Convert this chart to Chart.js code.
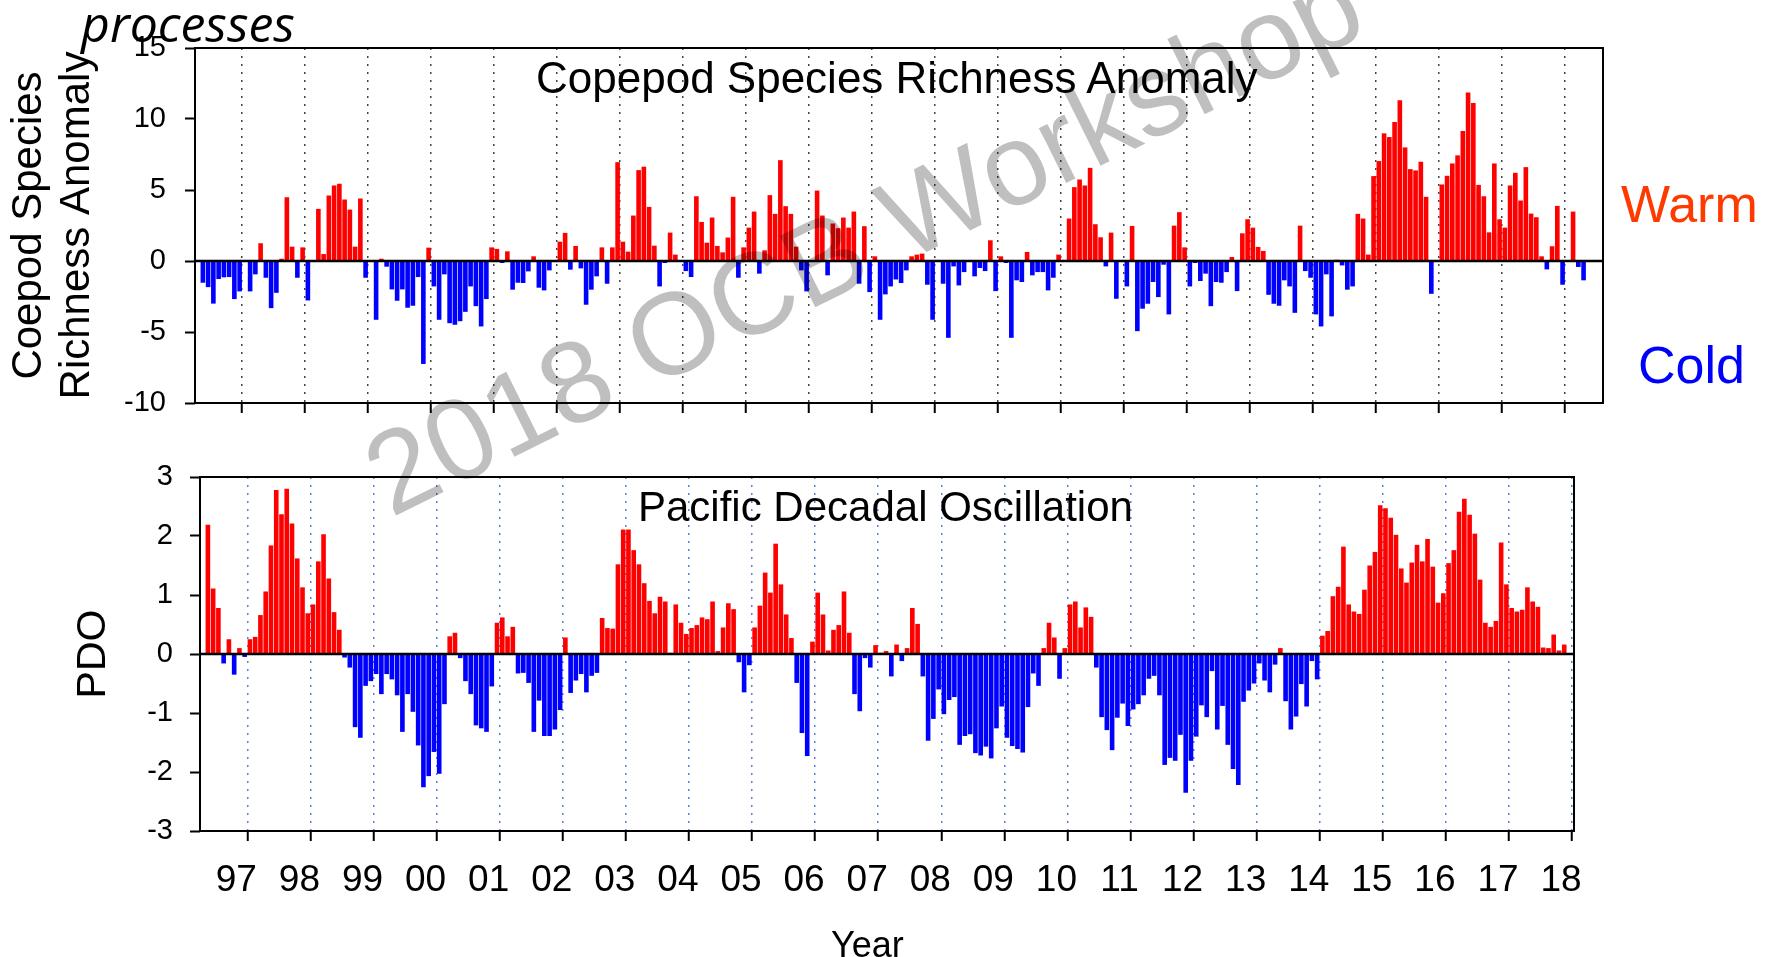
<!DOCTYPE html>
<html>
<head>
<meta charset="utf-8">
<title>Copepod richness and PDO</title>
<script src="https://cdn.jsdelivr.net/npm/chart.js@4.4.1/dist/chart.umd.min.js"></script>
<style>
  html, body { margin: 0; padding: 0; background: #fff; overflow: hidden; }
  body { width: 1773px; height: 957px; position: relative; font-family: 'Liberation Sans', Arial, sans-serif; }
  #topBox { position: absolute; left: 0; top: 0; width: 1773px; height: 440px; }
  #botBox { position: absolute; left: 0; top: 440px; width: 1773px; height: 517px; }
  .txt { position: absolute; white-space: nowrap; line-height: 1; }
  #processes { left: 81px; top: -2px; font: italic 50px 'Open Sans', sans-serif; color: #000; line-height: 1; }
  #copTitle { left: 536px; top: 56px; font-size: 44px; color: #000; }
  #pdoTitle { left: 638px; top: 486px; font-size: 42px; color: #000; }
  #warm { left: 1621px; top: 178px; font-size: 52px; color: #ff3a00; }
  #cold { left: 1638px; top: 339px; font-size: 52px; color: #0000ff; }
  #year { left: 831px; top: 927px; font-size: 36px; color: #000; }
  #mark { left: 391px; top: 420px; font-size: 116px; color: rgba(0,0,0,0.25);
          transform-origin: 0 98px; transform: rotate(-26.4deg); z-index: 5; }
</style>
</head>
<body>
<div id="topBox"><canvas id="copChart" width="1773" height="440"></canvas></div>
<div id="botBox"><canvas id="pdoChart" width="1773" height="517"></canvas></div>
<div class="txt" id="processes">processes</div>
<div class="txt" id="copTitle">Copepod Species Richness Anomaly</div>
<div class="txt" id="pdoTitle">Pacific Decadal Oscillation</div>
<div class="txt" id="warm">Warm</div>
<div class="txt" id="cold">Cold</div>
<div class="txt" id="year">Year</div>
<div class="txt" id="mark">2018 OCB Workshop</div>
<script>
  // monthly series, first value = May 1996 (null = no sample)
  var START_YEAR = 1996;
  var START_MONTH = 4; // 0-based, May

  var copepodAnom = [
    -1.53, -1.84, -3.0, -1.27, -1.15, -1.13, -2.68, -2.14,                 // 1996
    null, -2.14, -0.94, 1.25, -1.18, -3.32, -2.24, 0.16, 4.49, 1.01, -1.18, 0.96,   // 1997
    -2.78, null, 3.67, 0.49, 4.61, 5.32, 5.44, 4.33, 3.62, 1.01, 4.4, -1.18,        // 1998
    null, -4.14, 0.16, -0.4, -2.0, -2.8, -2.0, -3.29, -3.15, -1.13, -7.25, 0.94,    // 1999
    -1.79, -4.14, -0.94, -4.38, -4.49, -4.24, -3.58, -1.79, -3.18, -4.61, -2.68, 0.96, // 2000
    0.85, -0.14, 0.68, -2.02, -1.53, -1.55, -0.73, 0.33, -1.88, -2.07, -0.66, null, // 2001
    1.36, 1.98, -0.61, 1.06, -0.52, -3.08, -2.02, -1.08, 0.96, -1.6, 0.96, 6.96,    // 2002
    1.36, 0.66, 3.2, 6.4, 6.64, 3.81, 1.08, -1.79, -0.14, 2.0, 0.45, null,          // 2003
    -0.71, -1.13, 4.56, 2.75, 1.29, 3.06, 1.06, 0.61, 1.65, 4.52, -1.18, 0.96,      // 2004
    2.35, 3.48, -0.89, 0.75, 4.64, 3.32, 7.1, 3.86, 3.32, 1.01, -0.66, -2.14,       // 2005
    null, 4.96, 3.2, -1.01, 2.64, 2.31, 3.06, 2.35, 3.48, -1.6, 2.45, -2.19,        // 2006
    0.33, -4.14, -2.35, -1.79, -1.3, -1.55, -0.66, 0.33, 0.45, 0.52, -1.67, -4.14,  // 2007
    null, -1.6, -5.41, -0.38, -1.72, -0.78, 0.05, -1.08, -0.49, -0.71, 1.46, -2.12, // 2008
    0.33, -0.14, -5.41, -1.36, -1.48, 0.64, -1.01, -0.78, -0.78, -2.07, -1.18, 0.45, // 2009
    null, 2.99, 5.2, 5.74, 5.32, 6.56, 2.59, 1.67, -0.38, 2.0, -2.66, null,         // 2010
    -1.79, 2.47, -4.94, -3.36, -3.01, -1.48, -2.54, -0.26, -3.76, 2.49, 3.44, 0.96, // 2011
    -1.79, -0.14, -1.41, -0.89, -3.18, -1.48, -1.53, -0.78, 0.28, -2.12, 1.95, 2.94, // 2012
    2.35, 0.99, 0.71, -2.38, -3.01, -3.15, -1.36, -1.79, -3.65, 2.49, -0.71, -1.18, // 2013
    -3.76, -4.61, -0.94, -3.9, 0.09, -0.31, -2.02, -1.79, 3.32, 2.99, 0.45, 5.98,   // 2014
    7.04, 8.99, 8.73, 9.79, 11.32, 8.0, 6.47, 6.38, 6.99, 4.52, -2.31, null,        // 2015
    5.39, 6.0, 6.87, 7.44, 9.15, 11.86, 11.13, 5.36, 4.56, 2.02, 6.87, 2.94,        // 2016
    2.35, 5.32, 6.21, 4.26, 6.61, 3.34, 3.08, 0.33, -0.59, 1.04, 3.88, -1.67,       // 2017
    null, 3.48, -0.42, -1.36                                                        // 2018
  ];

  var pdoIndex = [
    2.19, 1.11, 0.78, -0.16, 0.25, -0.35, 0.1, -0.05,                               // 1996
    0.25, 0.29, 0.66, 1.06, 1.84, 2.78, 2.37, 2.8, 2.21, 1.62, 1.13, 0.69,          // 1997
    0.84, 1.57, 2.03, 1.28, 0.71, 0.41, -0.06, -0.23, -1.24, -1.42, -0.54, -0.46,   // 1998
    -0.34, -0.68, -0.34, -0.43, -0.7, -1.32, -0.68, -0.98, -1.55, -2.26, -2.07, -1.66, // 1999
    -2.03, -0.85, 0.3, 0.36, -0.07, -0.46, -0.68, -1.21, -1.26, -1.32, -0.55, 0.53, // 2000
    0.62, 0.3, 0.46, -0.33, -0.32, -0.49, -1.32, -0.79, -1.39, -1.39, -1.28, -0.95, // 2001
    0.28, -0.66, -0.45, -0.34, -0.65, -0.37, -0.32, 0.61, 0.44, 0.43, 1.52, 2.11,   // 2002
    2.11, 1.76, 1.52, 1.2, 0.9, 0.69, 0.97, 0.89, 0.02, 0.84, 0.53, 0.34,           // 2003
    0.44, 0.49, 0.62, 0.59, 0.89, 0.05, 0.45, 0.86, 0.76, -0.14, -0.65, -0.19,      // 2004
    0.45, 0.82, 1.38, 1.04, 1.87, 1.18, 0.67, 0.27, -0.49, -1.34, -1.73, 0.21,      // 2005
    1.04, 0.67, 0.06, 0.41, 0.49, 1.06, 0.36, -0.68, -0.97, -0.07, -0.23, 0.15,     // 2006
    0.02, 0.05, -0.38, 0.16, -0.12, 0.1, 0.78, 0.51, -0.38, -1.47, -1.1, -0.6,      // 2007
    -1.02, -0.78, -0.73, -1.54, -1.39, -1.36, -1.68, -1.72, -1.57, -1.77, -1.26, -0.89, // 2008
    -1.42, -1.56, -1.61, -1.67, -0.9, -0.33, -0.54, 0.1, 0.53, 0.28, -0.42, 0.1,    // 2009
    0.84, 0.89, 0.45, 0.79, 0.63, -0.23, -1.07, -1.29, -1.63, -1.08, -0.84, -1.22,  // 2010
    -0.94, -0.85, -0.7, -0.42, -0.37, -0.7, -1.88, -1.76, -1.81, -1.37, -2.35, -1.81, // 2011
    -1.4, -0.87, -1.07, -0.29, -1.28, -0.88, -1.54, -1.95, -2.22, -0.81, -0.62, -0.5, // 2012
    -0.16, -0.45, -0.65, -0.18, 0.1, -0.8, -1.28, -1.06, -0.51, -0.89, -0.12, -0.43, // 2013
    0.31, 0.39, 0.98, 1.14, 1.82, 0.84, 0.72, 0.68, 1.09, 1.5, 1.73, 2.52,          // 2014
    2.47, 2.31, 2.02, 1.45, 1.21, 1.55, 1.85, 1.57, 1.95, 1.48, 0.87, 1.03,         // 2015
    1.54, 1.76, 2.41, 2.63, 2.36, 2.04, 1.26, 0.53, 0.46, 0.56, 1.89, 1.18,         // 2016
    0.78, 0.72, 0.75, 1.13, 0.89, 0.8, 0.11, 0.1, 0.33, 0.06, 0.16                  // 2017
  ];

  var yearTicks = [1997, 1998, 1999, 2000, 2001, 2002, 2003, 2004, 2005, 2006, 2007,
                   2008, 2009, 2010, 2011, 2012, 2013, 2014, 2015, 2016, 2017, 2018];

  var WARM = '#ff0000';
  var COLD = '#0000ff';
  var FONT = "'Liberation Sans', Arial, sans-serif";

  Chart.defaults.font.family = FONT;
  Chart.defaults.color = '#000';

  // decimal year at the middle of month i
  function monthX(i) {
    return START_YEAR + (START_MONTH + i + 0.5) / 12;
  }

  function toPoints(arr) {
    return arr.map(function (v, i) { return { x: monthX(i), y: v }; });
  }

  function barColor(c) {
    var v = c.raw && c.raw.y;
    return v >= 0 ? WARM : COLD;
  }

  // frame round the plot + zero line on top of the bars
  var framePlugin = {
    id: 'frame',
    afterDatasetsDraw: function (chart) {
      var ctx = chart.ctx;
      var a = chart.chartArea;
      var y0 = chart.scales.y.getPixelForValue(0);
      ctx.save();
      ctx.strokeStyle = '#000';
      ctx.lineWidth = 2.5;
      ctx.beginPath();
      ctx.moveTo(a.left, y0);
      ctx.lineTo(a.right, y0);
      ctx.stroke();
      ctx.lineWidth = 2;
      ctx.strokeRect(a.left, a.top, a.right - a.left, a.bottom - a.top);
      ctx.restore();
    }
  };

  function yearAxis(min, max, height, gridColor, showLabels) {
    return {
      type: 'linear',
      min: min,
      max: max,
      offset: false,
      afterBuildTicks: function (s) {
        s.ticks = yearTicks.map(function (v) { return { value: v }; });
      },
      afterFit: function (s) { s.height = height; },
      grid: {
        offset: false,
        color: gridColor,
        lineWidth: 1.5,
        drawTicks: true,
        tickLength: 10,
        tickColor: '#000',
        tickWidth: 2
      },
      border: { display: false, dash: [2, 6] },
      ticks: {
        display: showLabels,
        autoSkip: false,
        maxRotation: 0,
        padding: 18,
        labelOffset: -11,
        font: { size: 37 },
        color: '#000',
        callback: function (v) { return String(v).slice(-2); }
      }
    };
  }

  function valueAxis(min, max, step, width, pad, title, titleSize, titlePad) {
    return {
      min: min,
      max: max,
      afterFit: function (s) { s.width = width; },
      grid: { drawOnChartArea: false, tickLength: 10, tickColor: '#000', tickWidth: 2 },
      border: { display: false },
      ticks: { stepSize: step, padding: pad, font: { size: 29 }, color: '#000' },
      title: {
        display: true,
        text: title,
        color: '#000',
        font: { size: titleSize, lineHeight: 1.15 },
        padding: { top: titlePad }
      }
    };
  }

  function barDataset(values) {
    return {
      data: toPoints(values),
      backgroundColor: barColor,
      borderWidth: 0,
      barPercentage: 0.88,
      categoryPercentage: 1.0
    };
  }

  new Chart(document.getElementById('copChart'), {
    type: 'bar',
    data: { datasets: [barDataset(copepodAnom)] },
    options: {
      responsive: false,
      animation: false,
      devicePixelRatio: 1,
      layout: { padding: { top: 48, right: 170, bottom: 0, left: 0 } },
      plugins: { legend: { display: false }, tooltip: { enabled: false } },
      scales: {
        x: yearAxis(1996.25, 2018.6, 37, '#444', false),
        y: valueAxis(-10, 15, 5, 195, 19, ['Coepod Species', 'Richness Anomaly'], 42, 5)
      }
    },
    plugins: [framePlugin]
  });

  new Chart(document.getElementById('pdoChart'), {
    type: 'bar',
    data: { datasets: [barDataset(pdoIndex)] },
    options: {
      responsive: false,
      animation: false,
      devicePixelRatio: 1,
      layout: { padding: { top: 37, right: 199, bottom: 0, left: 0 } },
      plugins: { legend: { display: false }, tooltip: { enabled: false } },
      scales: {
        x: yearAxis(1996.25, 2018.03, 126, '#5b7fe0', true),
        y: valueAxis(-3, 3, 1, 200, 17, 'PDO', 41, 70)
      }
    },
    plugins: [framePlugin]
  });
</script>
</body>
</html>
